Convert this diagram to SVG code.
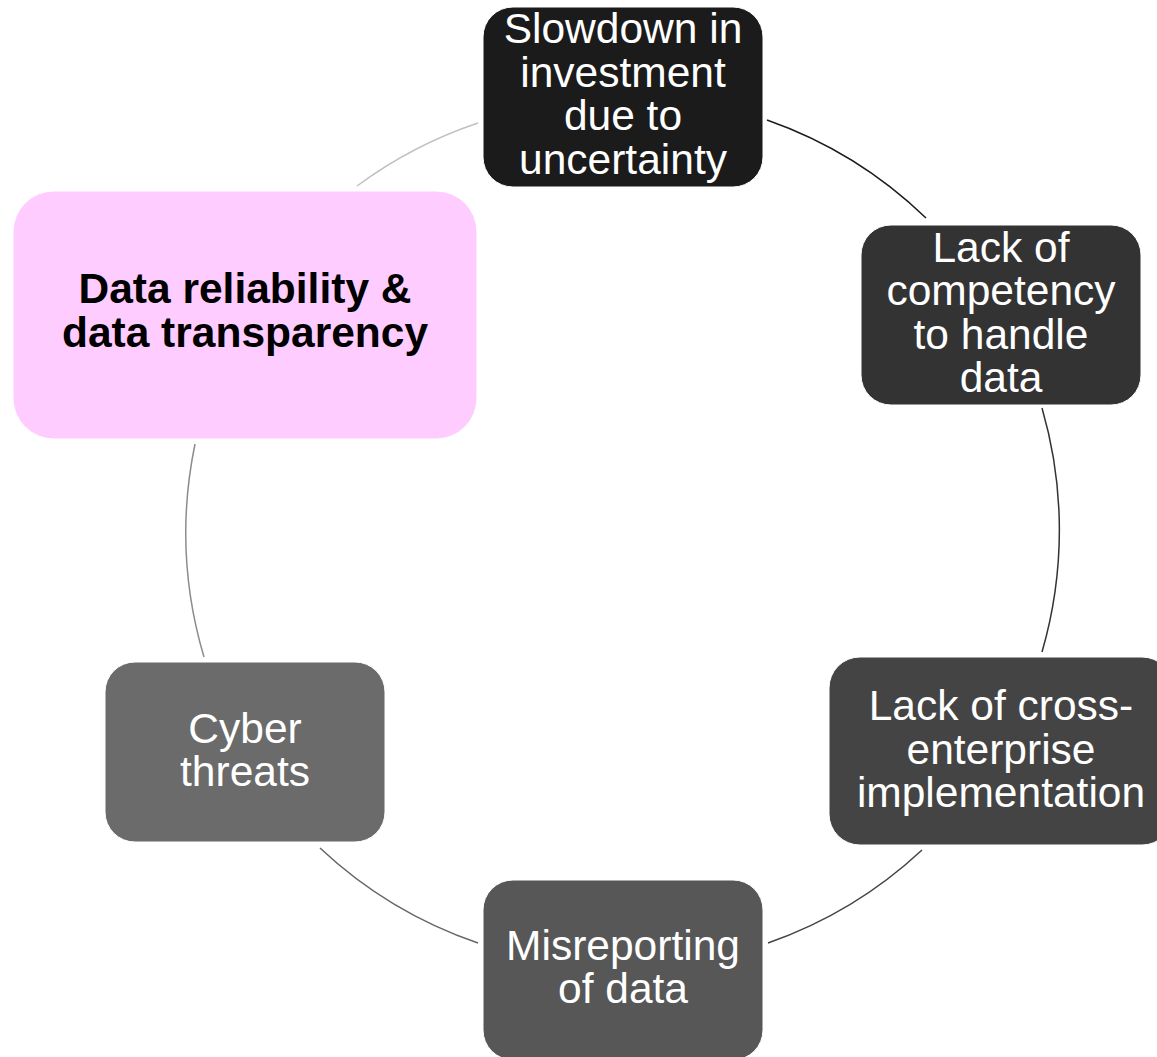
<svg xmlns="http://www.w3.org/2000/svg" width="1157" height="1057" viewBox="0 0 1157 1057">
<style>
.box{stroke:#ffffff;stroke-width:1}
.t{font-family:"Liberation Sans",Arial,sans-serif;font-size:42.5px;fill:#ffffff;text-anchor:middle}
.b{font-family:"Liberation Sans",Arial,sans-serif;font-size:42.5px;font-weight:bold;fill:#000000;text-anchor:middle}
.arc{fill:none;stroke-width:1.5}
</style>
<rect width="1157" height="1057" fill="#ffffff"/>
<g id="connectors">
<path class="arc" stroke="#1b1b1b" d="M767,120 A437,437 0 0 1 926,218"/>
<path class="arc" stroke="#333333" d="M1042,408 A437,437 0 0 1 1042,652"/>
<path class="arc" stroke="#444444" d="M922,850 A437,437 0 0 1 768,943"/>
<path class="arc" stroke="#666666" d="M478,943 A437,437 0 0 1 320,848"/>
<path class="arc" stroke="#8c8c8c" d="M204,657 A437,437 0 0 1 195,444"/>
<path class="arc" stroke="#c0c0c0" d="M357,186 A437,437 0 0 1 478,123"/>
</g>
<g id="node1">
<rect class="box" x="483" y="7" width="280" height="180" rx="30" fill="#1b1b1b"/>
<text class="t" x="623" y="43">Slowdown in</text>
<text class="t" x="623" y="87">investment</text>
<text class="t" x="623" y="130">due to</text>
<text class="t" x="623" y="174">uncertainty</text>
</g>
<g id="node2">
<rect class="box" x="861" y="225" width="280" height="180" rx="30" fill="#333333"/>
<text class="t" x="1001" y="262">Lack of</text>
<text class="t" x="1001" y="305">competency</text>
<text class="t" x="1001" y="349">to handle</text>
<text class="t" x="1001" y="392">data</text>
</g>
<g id="node3">
<rect class="box" x="829" y="657" width="344" height="188" rx="31" fill="#444444"/>
<text class="t" x="1001" y="720">Lack of cross-</text>
<text class="t" x="1001" y="764">enterprise</text>
<text class="t" x="1001" y="807">implementation</text>
</g>
<g id="node4">
<rect class="box" x="483" y="880" width="280" height="180" rx="30" fill="#575757"/>
<text class="t" x="623" y="960">Misreporting</text>
<text class="t" x="623" y="1003">of data</text>
</g>
<g id="node5">
<rect class="box" x="105" y="662" width="280" height="180" rx="30" fill="#6b6b6b"/>
<text class="t" x="245" y="743">Cyber</text>
<text class="t" x="245" y="786">threats</text>
</g>
<g id="node6">
<rect class="box" x="13" y="191" width="464" height="248" rx="41" fill="#ffccff"/>
<text class="b" x="245" y="303">Data reliability &amp;</text>
<text class="b" x="245" y="347">data transparency</text>
</g>
</svg>
